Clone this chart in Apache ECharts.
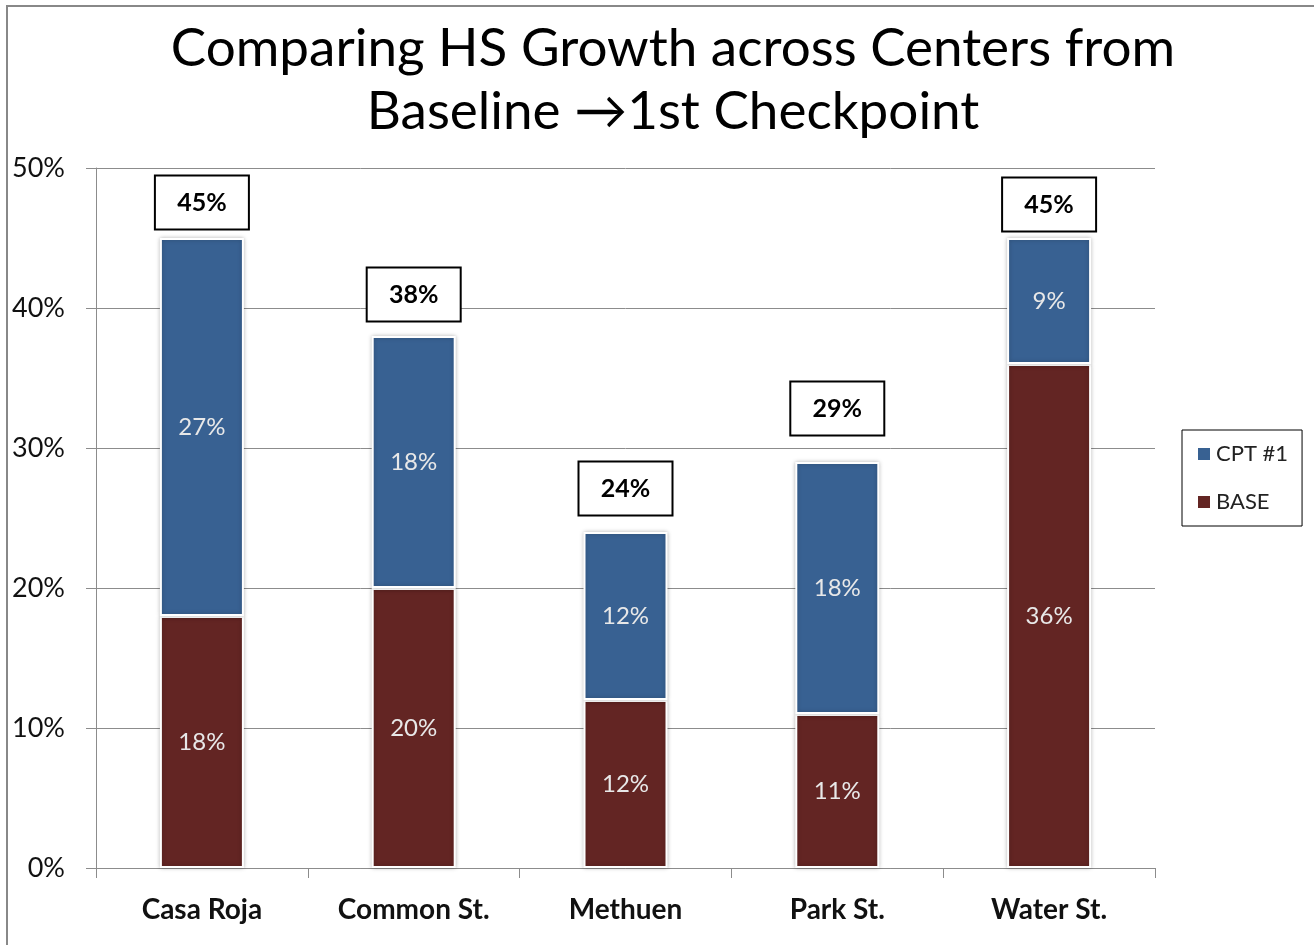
<!DOCTYPE html>
<html>
<head>
<meta charset="utf-8">
<script src="https://cdn.jsdelivr.net/npm/echarts@6/dist/echarts.min.js"></script>
<style>
  html, body { margin: 0; padding: 0; background: #fff; }
  #chart { width: 1314px; height: 945px; }
</style>
</head>
<body>
<div id="chart"></div>
<script>
// data
const centers = ['Casa Roja', 'Common St.', 'Methuen', 'Park St.', 'Water St.'];
const baseValues = [18, 20, 12, 11, 36];
const cptValues = [27, 18, 12, 18, 9];
const totals = [45, 38, 24, 29, 45];
const yTicks = [0, 10, 20, 30, 40, 50];

// gap between each total box and its bar (Excel placed them by hand)
const totalGaps = [9, 15, 17, 27, 7];

const chart = echarts.init(document.getElementById('chart'));

const font = 'Lato, "Open Sans", sans-serif';

const option = {
  animation: false,
  title: {
    text: 'Comparing HS Growth across Centers from\nBaseline \u21921st Checkpoint',
    left: 668,
    textAlign: 'center',
    top: 12,
    textStyle: {
      fontFamily: font,
      fontWeight: 'normal',
      fontSize: 53,
      lineHeight: 63,
      color: '#000'
    }
  },
  legend: {
    data: ['CPT #1', 'BASE'],
    orient: 'vertical',
    left: 1182,
    top: 430,
    padding: [13, 14, 13, 14],
    itemGap: 26,
    itemWidth: 14,
    itemHeight: 14,
    borderColor: '#000',
    borderWidth: 1,
    icon: 'rect',
    textStyle: { fontFamily: font, fontSize: 22, color: '#222' }
  },
  graphic: [{
    type: 'rect',
    shape: { x: 7, y: 6, width: 1400, height: 1000 },
    style: { fill: 'none', stroke: '#888', lineWidth: 2 },
    silent: true
  }],
  grid: {
    left: 96,
    right: 159,
    top: 168,
    bottom: 77
  },
  xAxis: {
    type: 'category',
    data: centers,
    axisLine: { lineStyle: { color: '#8c8c8c', width: 1 } },
    axisTick: { show: true, length: 10, lineStyle: { color: '#8c8c8c' } },
    axisLabel: {
      margin: 28,
      fontFamily: font,
      fontSize: 28,
      fontWeight: 'bold',
      color: '#111'
    }
  },
  yAxis: {
    type: 'value',
    min: 0,
    max: 50,
    interval: 10,
    axisLine: { show: true, lineStyle: { color: '#8c8c8c', width: 1 } },
    axisTick: { show: true, length: 10, lineStyle: { color: '#8c8c8c' } },
    splitLine: { lineStyle: { color: '#8c8c8c', width: 1 } },
    axisLabel: {
      margin: 31,
      fontFamily: font,
      fontSize: 27,
      color: '#111',
      formatter: v => (yTicks.includes(v) ? v + '%' : '')
    }
  },
  series: [
    {
      name: 'BASE',
      type: 'bar',
      stack: 'total',
      barWidth: 84,
      data: baseValues,
      itemStyle: {
        color: '#632523',
        borderColor: '#fff',
        borderWidth: 2,
        shadowColor: 'rgba(0,0,0,0.25)',
        shadowBlur: 4
      },
      label: {
        show: true,
        position: 'inside',
        formatter: p => p.value + '%',
        fontFamily: font,
        fontSize: 24,
        color: '#e8e8e8'
      }
    },
    {
      name: 'CPT #1',
      type: 'bar',
      stack: 'total',
      barWidth: 84,
      data: cptValues,
      itemStyle: {
        color: '#386192',
        borderColor: '#fff',
        borderWidth: 2,
        shadowColor: 'rgba(0,0,0,0.25)',
        shadowBlur: 4
      },
      label: {
        show: true,
        position: 'inside',
        formatter: p => p.value + '%',
        fontFamily: font,
        fontSize: 24,
        color: '#e8e8e8'
      }
    },
    {
      name: 'Total',
      type: 'scatter',
      symbolSize: 1,
      itemStyle: { color: 'rgba(0,0,0,0)' },
      data: totals.map((t, i) => ({
        value: t,
        label: { distance: totalGaps[i] }
      })),
      label: {
        show: true,
        position: 'top',
        formatter: p => p.value + '%',
        fontFamily: font,
        fontSize: 25,
        fontWeight: 'bold',
        color: '#000',
        opacity: 1,
        backgroundColor: '#fff',
        borderColor: '#000',
        borderWidth: 2,
        shadowBlur: 0,
        shadowColor: 'transparent',
        width: 68,
        align: 'center',
        padding: [14, 12, 13, 12]
      },
      z: 5
    }
  ]
};

chart.setOption(option);
</script>
</body>
</html>
